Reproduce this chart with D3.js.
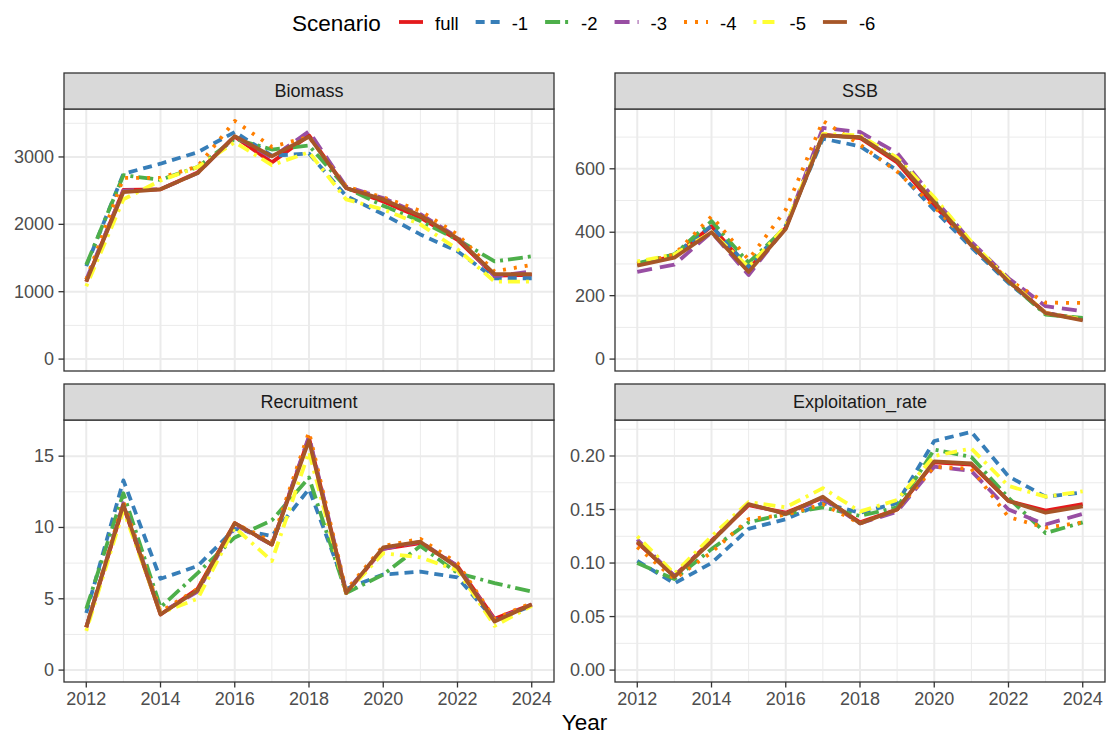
<!DOCTYPE html>
<html>
<head>
<meta charset="utf-8" />
<style>
  body { margin: 0; background: #fff; }
  svg text { font-family: "Liberation Sans", Arial, sans-serif; }
</style>
</head>
<body>
<svg id="chart" width="1107" height="735"></svg>
<script src="https://cdn.jsdelivr.net/npm/d3@7"></script>
<script>
// ---- data ----
var years = [2012, 2013, 2014, 2015, 2016, 2017, 2018, 2019, 2020, 2021, 2022, 2023, 2024];
var scenarios = ["full", "-1", "-2", "-3", "-4", "-5", "-6"];
var colors = ["#E41A1C", "#377EB8", "#4DAF4A", "#984EA3", "#FF7F00", "#FFFF33", "#A65628"];
var dashes = [null, "9,6", "15,5,3,5", "15,8", "3,8", "3,6,12,6", null];
var panelNames = ["Biomass", "SSB", "Recruitment", "Exploitation_rate"];

// one row per scenario, same order as `scenarios`
var biomass = [
  [1150, 2510, 2520, 2770, 3300, 2920, 3320, 2540, 2340, 2100, 1770, 1240, 1250],
  [1380, 2750, 2900, 3070, 3370, 3020, 3050, 2420, 2150, 1850, 1600, 1200, 1200],
  [1400, 2730, 2660, 2850, 3270, 3110, 3170, 2545, 2275, 2050, 1775, 1450, 1525],
  [1180, 2500, 2520, 2760, 3310, 2990, 3380, 2560, 2390, 2150, 1810, 1230, 1300],
  [1180, 2690, 2690, 2860, 3535, 3150, 3300, 2560, 2400, 2200, 1850, 1300, 1400],
  [1080, 2370, 2650, 2850, 3220, 2880, 3070, 2370, 2220, 2000, 1630, 1150, 1150],
  [1150, 2480, 2520, 2760, 3310, 3010, 3300, 2540, 2370, 2130, 1790, 1260, 1260]
];
var ssb = [
  [298, 325, 419, 283, 414, 708, 697, 620, 485, 358, 246, 146, 125],
  [300, 330, 420, 290, 420, 695, 671, 595, 470, 352, 240, 145, 125],
  [302, 330, 435, 304, 415, 705, 700, 630, 500, 360, 245, 140, 130],
  [275, 298, 400, 265, 415, 729, 716, 650, 505, 370, 255, 167, 151],
  [300, 330, 450, 314, 471, 751, 676, 591, 480, 360, 250, 178, 177],
  [308, 330, 400, 290, 420, 710, 705, 635, 510, 370, 250, 145, 125],
  [295, 320, 400, 275, 410, 705, 700, 625, 495, 360, 245, 145, 122]
];
var recruitment = [
  [3.0, 11.5, 3.9, 5.7, 10.3, 8.8, 16.3, 5.4, 8.5, 8.9, 7.3, 3.6, 4.6],
  [4.0, 13.3, 6.4, 7.3, 9.9, 9.4, 12.7, 5.7, 6.7, 6.9, 6.5, 3.5, 4.5],
  [4.3, 12.4, 4.4, 6.8, 9.3, 10.5, 13.5, 5.4, 6.7, 8.7, 6.8, 6.1, 5.5],
  [3.0, 11.7, 4.0, 5.5, 10.2, 8.8, 16.4, 5.5, 8.5, 9.0, 7.3, 3.5, 4.6],
  [3.0, 11.8, 4.1, 5.7, 10.3, 9.0, 16.7, 5.6, 8.7, 9.2, 7.5, 3.6, 4.7],
  [2.75, 11.2, 4.0, 5.0, 10.0, 7.65, 15.3, 5.4, 8.2, 7.9, 7.0, 3.1, 4.5],
  [3.0, 11.6, 3.9, 5.6, 10.3, 8.8, 16.1, 5.4, 8.6, 9.0, 7.2, 3.4, 4.6]
];
var exploitation = [
  [0.119, 0.088, 0.121, 0.154, 0.147, 0.161, 0.138, 0.150, 0.194, 0.192, 0.158, 0.149, 0.155],
  [0.102, 0.081, 0.100, 0.132, 0.141, 0.156, 0.147, 0.156, 0.214, 0.2225, 0.181, 0.162, 0.166],
  [0.100, 0.085, 0.113, 0.138, 0.146, 0.152, 0.144, 0.152, 0.206, 0.199, 0.161, 0.128, 0.138],
  [0.122, 0.088, 0.120, 0.155, 0.146, 0.160, 0.137, 0.148, 0.190, 0.186, 0.150, 0.136, 0.146],
  [0.115, 0.085, 0.110, 0.141, 0.145, 0.155, 0.137, 0.150, 0.190, 0.188, 0.143, 0.133, 0.138],
  [0.125, 0.090, 0.125, 0.157, 0.152, 0.170, 0.148, 0.159, 0.200, 0.207, 0.172, 0.162, 0.167],
  [0.120, 0.087, 0.120, 0.155, 0.146, 0.162, 0.137, 0.150, 0.195, 0.193, 0.158, 0.147, 0.153]
];
var panelData = [biomass, ssb, recruitment, exploitation];
var yFormats = [d3.format("d"), d3.format("d"), d3.format("d"), d3.format(".2f")];

// ---- layout ----
var svg = d3.select("#chart");
var cols = [[64, 554], [615, 1105]];
var rows = [73, 384];
var stripH = 36, plotH = 262;
var axisSize = 18, titleSize = 22.5, legendSize = 18.5;
var tickLen = 5.5, tickPad = 4.5;
var lineW = 3.8;

function expand(lo, hi) {
  var pad = (hi - lo) * 0.05;
  return [lo - pad, hi + pad];
}

var xDomain = expand(d3.min(years), d3.max(years));

panelNames.forEach(function (name, p) {
  var col = cols[p % 2], top = rows[Math.floor(p / 2)];
  var plotTop = top + stripH, plotBot = plotTop + plotH;
  var data = panelData[p];

  var x = d3.scaleLinear().domain(xDomain).range([col[0], col[1]]);
  var yMax = d3.max(data, function (r) { return d3.max(r); });
  var y = d3.scaleLinear().domain(expand(0, yMax)).range([plotBot, plotTop]);

  var g = svg.append("g");

  // grid: major at ticks, minor halfway between
  var yt = y.ticks(5), step = yt[1] - yt[0];
  var yMinor = [];
  yt.forEach(function (t) { yMinor.push(t - step / 2); });
  yMinor.push(yt[yt.length - 1] + step / 2);
  yMinor = yMinor.filter(function (v) { return y(v) >= plotTop && y(v) <= plotBot; });
  var xt = years.filter(function (d) { return d % 2 === 0; });
  var xMinor = years.filter(function (d) { return d % 2 === 1; });

  g.selectAll(".ymin").data(yMinor).enter().append("line")
    .attr("x1", col[0]).attr("x2", col[1])
    .attr("y1", y).attr("y2", y)
    .attr("stroke", "#EBEBEB").attr("stroke-width", 1);
  g.selectAll(".xmin").data(xMinor).enter().append("line")
    .attr("x1", x).attr("x2", x)
    .attr("y1", plotTop).attr("y2", plotBot)
    .attr("stroke", "#EBEBEB").attr("stroke-width", 1);
  g.selectAll(".ymaj").data(yt).enter().append("line")
    .attr("x1", col[0]).attr("x2", col[1])
    .attr("y1", y).attr("y2", y)
    .attr("stroke", "#EBEBEB").attr("stroke-width", 2);
  g.selectAll(".xmaj").data(xt).enter().append("line")
    .attr("x1", x).attr("x2", x)
    .attr("y1", plotTop).attr("y2", plotBot)
    .attr("stroke", "#EBEBEB").attr("stroke-width", 2);

  // lines
  var line = d3.line()
    .x(function (d, i) { return x(years[i]); })
    .y(function (d) { return y(d); });
  data.forEach(function (series, s) {
    g.append("path")
      .attr("d", line(series))
      .attr("fill", "none")
      .attr("stroke", colors[s])
      .attr("stroke-width", lineW)
      .attr("stroke-dasharray", dashes[s])
      .attr("stroke-linejoin", "round");
  });

  // border
  g.append("rect")
    .attr("x", col[0]).attr("y", plotTop)
    .attr("width", col[1] - col[0]).attr("height", plotH)
    .attr("fill", "none").attr("stroke", "#333333").attr("stroke-width", 1.3);

  // strip
  g.append("rect")
    .attr("x", col[0]).attr("y", top)
    .attr("width", col[1] - col[0]).attr("height", stripH)
    .attr("fill", "#D9D9D9").attr("stroke", "#333333").attr("stroke-width", 1.3);
  g.append("text")
    .attr("x", (col[0] + col[1]) / 2).attr("y", top + stripH / 2)
    .attr("text-anchor", "middle").attr("dominant-baseline", "central")
    .attr("font-size", axisSize).attr("fill", "#1A1A1A")
    .text(name);

  // y axis
  g.selectAll(".ytick").data(yt).enter().append("line")
    .attr("x1", col[0] - tickLen).attr("x2", col[0])
    .attr("y1", y).attr("y2", y)
    .attr("stroke", "#333333").attr("stroke-width", 1.3);
  g.selectAll(".ylab").data(yt).enter().append("text")
    .attr("x", col[0] - tickLen - tickPad).attr("y", y)
    .attr("text-anchor", "end").attr("dominant-baseline", "central")
    .attr("font-size", axisSize).attr("fill", "#4D4D4D")
    .text(yFormats[p]);

  // x axis only on bottom row
  if (p >= 2) {
    g.selectAll(".xtick").data(xt).enter().append("line")
      .attr("x1", x).attr("x2", x)
      .attr("y1", plotBot).attr("y2", plotBot + tickLen)
      .attr("stroke", "#333333").attr("stroke-width", 1.3);
    g.selectAll(".xlab").data(xt).enter().append("text")
      .attr("x", x).attr("y", plotBot + tickLen + tickPad + 13)
      .attr("text-anchor", "middle")
      .attr("font-size", axisSize).attr("fill", "#4D4D4D")
      .text(function (d) { return d; });
  }
});

// x title
svg.append("text")
  .attr("x", (cols[0][0] + cols[1][1]) / 2).attr("y", 730)
  .attr("text-anchor", "middle")
  .attr("font-size", titleSize).attr("fill", "#000")
  .text("Year");

// legend
var leg = svg.append("g");
leg.append("text")
  .attr("x", 292).attr("y", 31)
  .attr("font-size", titleSize).attr("fill", "#000")
  .text("Scenario");
var lx = 399;
scenarios.forEach(function (s, i) {
  leg.append("line")
    .attr("x1", lx).attr("x2", lx + 24)
    .attr("y1", 22).attr("y2", 22)
    .attr("stroke", colors[i]).attr("stroke-width", lineW)
    .attr("stroke-dasharray", dashes[i]);
  var t = leg.append("text")
    .attr("x", lx + 36).attr("y", 29.5)
    .attr("font-size", legendSize).attr("fill", "#000")
    .text(s);
  lx += 36 + t.node().getComputedTextLength() + 17;
});
</script>
</body>
</html>
